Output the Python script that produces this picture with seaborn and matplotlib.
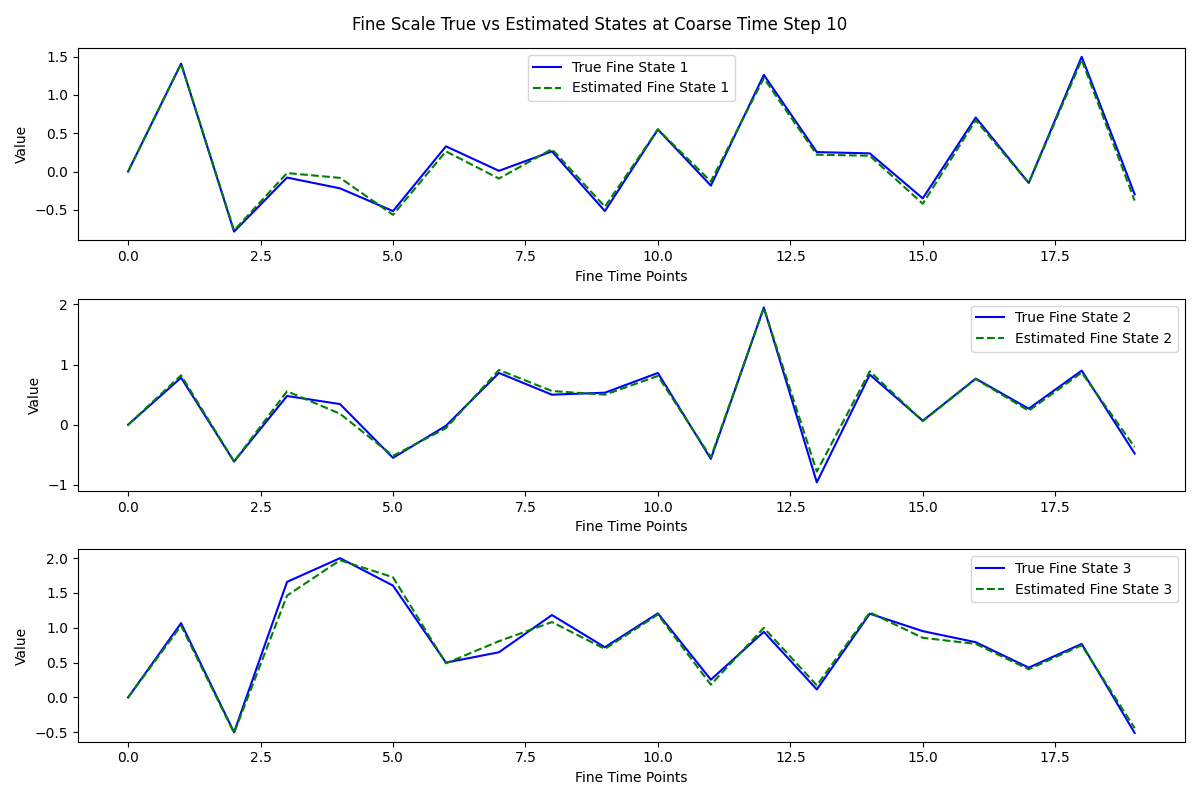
import matplotlib
matplotlib.use("Agg")
import matplotlib.pyplot as plt
import seaborn as sns
import numpy as np

fine_time = np.arange(20)

true_state_1 = [0.0, 1.41, -0.785, -0.079, -0.22, -0.517, 0.329, 0.009, 0.263, -0.517,
                0.549, -0.184, 1.263, 0.254, 0.237, -0.351, 0.706, -0.149, 1.5, -0.298]
est_state_1 = [0.0, 1.41, -0.77, -0.02, -0.083, -0.566, 0.263, -0.092, 0.293, -0.46,
               0.55, -0.13, 1.22, 0.22, 0.206, -0.421, 0.671, -0.15, 1.46, -0.38]

true_state_2 = [0.0, 0.783, -0.611, 0.478, 0.344, -0.55, -0.017, 0.861, 0.5, 0.533,
                0.861, -0.567, 1.95, -0.956, 0.833, 0.067, 0.767, 0.267, 0.9, -0.478]
est_state_2 = [0.0, 0.822, -0.61, 0.556, 0.183, -0.517, -0.056, 0.911, 0.561, 0.5,
               0.811, -0.539, 1.94, -0.778, 0.889, 0.06, 0.76, 0.233, 0.867, -0.372]

true_state_3 = [0.0, 1.067, -0.5, 1.659, 2.0, 1.606, 0.5, 0.649, 1.183, 0.721,
                1.207, 0.255, 0.942, 0.115, 1.202, 0.952, 0.793, 0.428, 0.769, -0.51]
est_state_3 = [0.0, 1.03, -0.51, 1.462, 1.97, 1.726, 0.49, 0.808, 1.082, 0.697,
               1.19, 0.183, 1.0, 0.173, 1.221, 0.856, 0.769, 0.404, 0.75, -0.44]

true_states = [true_state_1, true_state_2, true_state_3]
est_states = [est_state_1, est_state_2, est_state_3]
legend_locs = ["upper center", "upper right", "upper right"]

fig, axes = plt.subplots(3, 1, figsize=(12, 8), dpi=100)
for i, ax in enumerate(axes):
    sns.lineplot(x=fine_time, y=true_states[i], color="blue", label=f"True Fine State {i + 1}", ax=ax)
    sns.lineplot(x=fine_time, y=est_states[i], color="green", linestyle="--",
                 label=f"Estimated Fine State {i + 1}", ax=ax)
    ax.set_xlabel("Fine Time Points")
    ax.set_ylabel("Value")
    ax.legend(loc=legend_locs[i])

fig.suptitle("Fine Scale True vs Estimated States at Coarse Time Step 10")
plt.tight_layout()
plt.savefig("out.png")
